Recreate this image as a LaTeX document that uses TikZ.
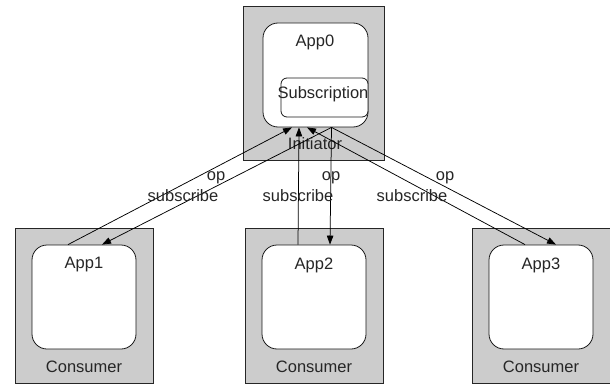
\documentclass[tikz,border=0pt]{standalone}
\usepackage{fontspec}
\setmainfont{Liberation Sans}
\usetikzlibrary{arrows.meta}

\begin{document}
\begin{tikzpicture}[x=1pt,y=-1pt,
    host/.style={draw=black!85,line width=0.8pt,fill=black!20,minimum width=138pt,minimum height=155pt,inner sep=0pt},
    app/.style={draw=black!90,line width=0.8pt,fill=white,rounded corners=15pt,minimum width=104pt,minimum height=104pt,inner sep=0pt},
    txt/.style={inner sep=0pt,font=\fontsize{16.5}{19}\selectfont,text=black!85},
    msg/.style={-{Triangle[length=9pt,width=6.5pt]},line width=0.75pt}]
        \useasboundingbox (0,0) rectangle (610,385);
        \node[host,minimum width=141pt,minimum height=154pt] (init) at (313.5,83) {};
        \node[app,minimum width=105pt] (app0) at (315.5,75) {};
        \node[app,rounded corners=6pt,minimum width=87pt,minimum height=39pt] (sub) at (324.5,97.5) {};
        \node[txt] (app0lbl) at (315,42) {App0};
        \node[txt] (sublbl) at (323,94) {Subscription};
        \node[txt] (initlbl) at (315,144) {Initiator};
        \foreach \i/\x in {1/84,2/314,3/541}{
        \node[host] (host\i) at (\x,305.5) {};
        \node[app] (app\i) at (\x,297) {};
        \node[txt] (applbl\i) at (\x,265) {App\i};
        \node[txt] (hostlbl\i) at (\x,367) {Consumer};
        }
        \foreach \i/\s/\o in {1/-23.5/18,2/-16.5/16,3/-8.5/15}{
        \draw[msg] ([xshift=-16pt]app\i.north) -- ([xshift=\s pt]app0.south);
        \draw[msg] ([xshift=16pt]app0.south) -- ([xshift=\o pt]app\i.north);
        }
        \foreach \i/\x in {1/216,2/331,3/445}{
        \node[txt] (opl\i) at (\x,177.5) {op};
        \node[txt] (subl\i) at (\x-33,196) {subscribe};
        }
\end{tikzpicture}
\end{document}
